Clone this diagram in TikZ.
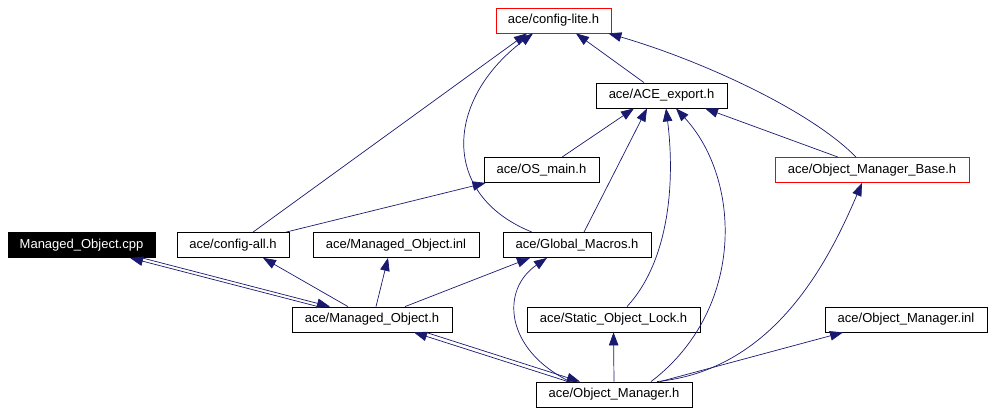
\documentclass[tikz,border=0pt]{standalone}
\usepackage{fontspec}
\setmainfont{Liberation Sans}
\usetikzlibrary{arrows.meta,calc}
\definecolor{edgeblue}{RGB}{25,25,112}
\tikzset{
  box/.style={draw=black, line width=0.8pt, fill=white, inner sep=0pt, minimum height=25pt,
    font=\fontsize{13}{15}\selectfont, anchor=center},
  redbox/.style={box, draw=red},
  blackbox/.style={box, fill=black, text=white},
  dep/.style={draw=edgeblue, line width=0.7pt, -{Triangle[length=13pt,width=9.5pt]}, fill=none},
}
\begin{document}
\begin{tikzpicture}[x=1pt,y=-1pt]
\useasboundingbox (0,0) rectangle (992,413);
% nodes
\node[redbox, minimum width=115pt] (lite) at (553.5,20.5) {ace/config-lite.h};
\node[box, minimum width=131pt] (export) at (661.5,95.5) {ace/ACE\_export.h};
\node[box, minimum width=115pt] (osmain) at (541.5,170) {ace/OS\_main.h};
\node[redbox, minimum width=194pt] (omb) at (872,170) {ace/Object\_Manager\_Base.h};
\node[blackbox, minimum width=147pt] (cpp) at (81.5,245) {Managed\_Object.cpp};
\node[box, minimum width=112pt] (cfgall) at (233,245) {ace/config-all.h};
\node[box, minimum width=166pt] (moinl) at (396,245) {ace/Managed\_Object.inl};
\node[box, minimum width=148pt] (gm) at (577,245) {ace/Global\_Macros.h};
\node[box, minimum width=160pt] (moh) at (372,319.5) {ace/Managed\_Object.h};
\node[box, minimum width=173pt] (sol) at (613.5,319.5) {ace/Static\_Object\_Lock.h};
\node[box, minimum width=162pt] (ominl) at (906,319.5) {ace/Object\_Manager.inl};
\node[box, minimum width=156pt] (omh) at (614,394.5) {ace/Object\_Manager.h};
% edges
\draw[dep] ([xshift=20pt]cfgall.north) -- ([xshift=-26.5pt]lite.south);
\draw[dep] ([xshift=-45pt]gm.north) .. controls (440,195) and (445,100) .. ([xshift=-20.5pt]lite.south);
\draw[dep] ([xshift=-17.5pt]export.north) -- ([xshift=22.5pt]lite.south);
\draw[dep] ([xshift=-16pt]omb.north) .. controls (810,110) and (700,60) .. ([xshift=-3pt]lite.south east);
\draw[dep] ([xshift=20.5pt]osmain.north) -- ([xshift=-27.5pt]export.south);
\draw[dep] ([xshift=7pt]gm.north) -- ([xshift=-14.5pt]export.south);
\draw[dep] ([xshift=13.5pt]sol.north) .. controls (670,260) and (675,180) .. ([xshift=4.5pt]export.south);
\draw[dep] ([xshift=37pt]omh.north) .. controls (745,310) and (742,180) .. ([xshift=14.5pt]export.south);
\draw[dep] ([xshift=-34pt]omb.north) -- ([xshift=43.5pt]export.south);
\draw[dep] ([xshift=53pt]cfgall.north) -- ([xshift=2pt]osmain.south west);
\draw[dep] ([xshift=-24pt]moh.north) -- ([xshift=30pt]cfgall.south);
\draw[dep] ([xshift=4pt]moh.north) -- ([xshift=-8pt]moinl.south);
\draw[dep] ([xshift=33pt]moh.north) -- ([xshift=-47pt]gm.south);
\draw[dep] ([xshift=-44pt]omh.north) .. controls (505,350) and (500,290) .. ([xshift=-30pt]gm.south);
\draw[dep] (omh.north) -- (sol.south);
\draw[dep] ([xshift=46pt]omh.north) -- ([xshift=-63pt]ominl.south);
\draw[dep] ([xshift=43pt]omh.north) .. controls (770,370) and (825,270) .. ([xshift=-10pt]omb.south);
\draw[dep] ([xshift=-54pt]moh.north) -- ([xshift=48.5pt]cpp.south);
\draw[dep] ([xshift=60.5pt]cpp.south) -- ([xshift=-42pt]moh.north);
\draw[dep] ([xshift=-46pt]omh.north) -- ([xshift=42pt]moh.south);
\draw[dep] ([xshift=54pt]moh.south) -- ([xshift=-34pt]omh.north);
\end{tikzpicture}
\end{document}
